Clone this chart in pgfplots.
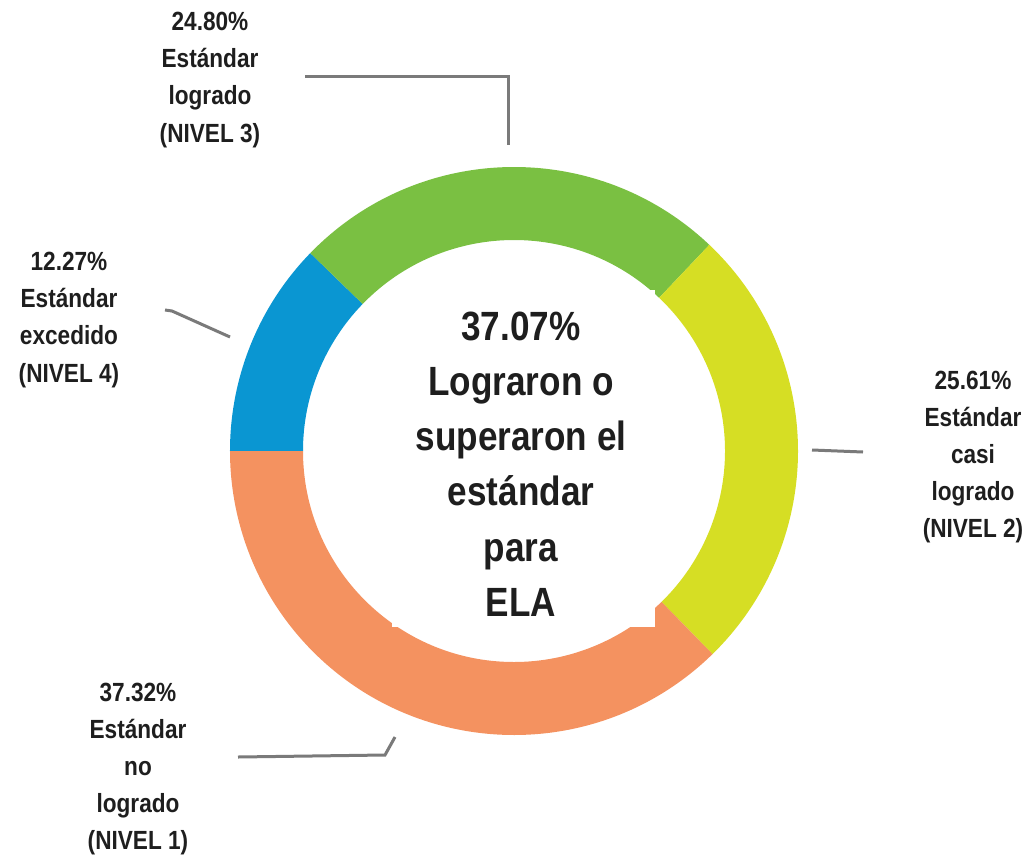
\documentclass[border=0pt]{standalone}
\usepackage{fontspec}
\setmainfont{Liberation Sans}[FakeStretch=0.86]
\usepackage{pgfplots}
\usepackage{pgfplotstable}
\pgfplotsset{compat=1.18}

\definecolor{cblue}{HTML}{0A96D2}
\definecolor{cgreen}{HTML}{7AC042}
\definecolor{cyellow}{HTML}{D6DE24}
\definecolor{corange}{HTML}{F49260}
\definecolor{leader}{HTML}{7A7A7A}
\definecolor{txt}{HTML}{1E1E1E}

% share of students per level, clockwise from 9 o'clock
\pgfplotstableread{
pct   col
12.27 cblue
24.80 cgreen
25.61 cyellow
37.32 corange
}\ringdata

\begin{document}
\begin{tikzpicture}
\begin{axis}[
  x=0.5bp, y=0.5bp,
  xmin=0, xmax=1033, ymin=0, ymax=860,
  hide axis, clip=false,
]
\coordinate (bl) at (axis cs:0,0);
\coordinate (tr) at (axis cs:1033,860);
% ring segments (centre 514,409 in px; radii 284 / 211 px)
\pgfplotstablegetrowsof{\ringdata}
\pgfmathtruncatemacro\nrows{\pgfplotsretval-1}
\def\acur{180}
\pgfplotsforeachungrouped \i in {0,...,\nrows}{
  \pgfplotstablegetelem{\i}{pct}\of\ringdata \let\segpct\pgfplotsretval
  \pgfplotstablegetelem{\i}{col}\of\ringdata \let\segcol\pgfplotsretval
  \pgfmathsetmacro\anext{\acur-3.6*\segpct}
  \edef\temp{\noexpand\fill[\segcol]
    ([shift={(axis cs:514,409)}]\acur:142bp)
    arc[start angle=\acur, end angle=\anext, radius=142bp]
    -- ([shift={(axis cs:514,409)}]\anext:105.5bp)
    arc[start angle=\anext, end angle=\acur, radius=105.5bp] -- cycle;}
  \temp
  \let\acur\anext
}

% white box behind the centre text
\fill[white] (axis cs:392,233) rectangle (axis cs:655,570);

% leader lines
\draw[leader, line width=1.5bp] (axis cs:305,783) -- (axis cs:508,783) -- (axis cs:508,715);
\draw[leader, line width=1.5bp] (axis cs:165,550) -- (axis cs:172,549) -- (axis cs:230,523);
\draw[leader, line width=1.5bp] (axis cs:812,410) -- (axis cs:863,408);
\draw[leader, line width=1.5bp] (axis cs:238,103) -- (axis cs:385,105) -- (axis cs:395,123);

% labels
\begin{scope}[every node/.style={align=center, text=txt,
    font=\bfseries\fontsize{13.2}{18.6}\selectfont}]
\node at (axis cs:210,780) {24.80\%\\Estándar\\logrado\\(NIVEL 3)};
\node at (axis cs:69,540) {12.27\%\\Estándar\\excedido\\(NIVEL 4)};
\node at (axis cs:973,403) {25.61\%\\Estándar\\casi\\logrado\\(NIVEL 2)};
\node at (axis cs:138,91) {37.32\%\\Estándar\\no\\logrado\\(NIVEL 1)};
\end{scope}

\node[align=center, text=txt, font=\bfseries\fontsize{20.5}{27.7}\selectfont]
  at (axis cs:521,396) {37.07\%\\Lograron o\\superaron el\\estándar\\para\\ELA};
\end{axis}
\pgfresetboundingbox
\useasboundingbox (bl) rectangle (tr);
\end{tikzpicture}
\end{document}
